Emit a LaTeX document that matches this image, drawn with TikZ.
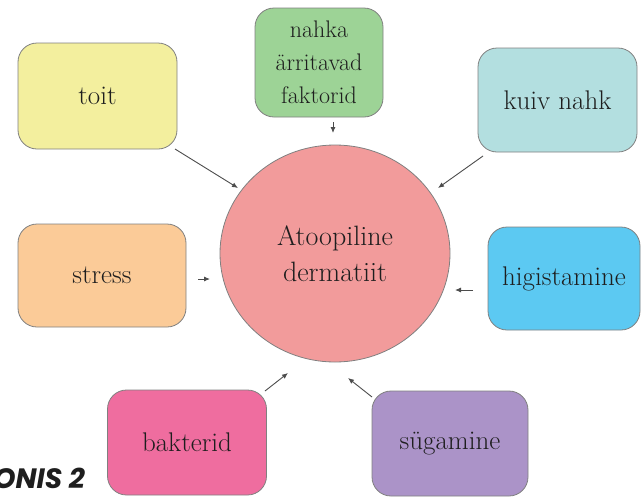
\documentclass[tikz,border=0pt]{standalone}
\usepackage{fontspec}
\newfontfamily\capfont{Poppins}
\usetikzlibrary{arrows.meta}
\definecolor{cyel}{HTML}{F3EF9E}
\definecolor{cgrn}{HTML}{9DD396}
\definecolor{ccya}{HTML}{B3DFE0}
\definecolor{corg}{HTML}{FBCB98}
\definecolor{cblu}{HTML}{5CC9F2}
\definecolor{cpnk}{HTML}{EF6D9F}
\definecolor{cpur}{HTML}{AB93C8}
\definecolor{ccir}{HTML}{F29B9B}
\definecolor{cbrd}{HTML}{808080}
\definecolor{ctxt}{HTML}{1E1E1E}
\tikzset{
  box/.style={draw=cbrd, line width=0.8pt, rounded corners=19pt, inner sep=0pt,
    text=ctxt, font=\fontsize{27}{33}\selectfont, align=center},
  hub/.style={draw=cbrd, line width=0.8pt, ellipse, fill=ccir, inner sep=0pt,
    text=ctxt, font=\fontsize{28}{36}\selectfont, align=center},
  arr/.style={draw=black!70, line width=0.9pt, -{Latex[length=6pt,width=5pt]}},
}
\usetikzlibrary{shapes.geometric}
\begin{document}
\begin{tikzpicture}[x=1pt,y=-1pt]
\useasboundingbox (0,0) rectangle (643,496);
\node[hub, minimum width=230pt, minimum height=217pt] (c) at (335,253.5) {Atoopiline\\dermatiit};
\node[box, fill=cyel, minimum width=159pt, minimum height=106pt] (toit) at (97.5,96) {toit};
\node[box, fill=cgrn, minimum width=128pt, minimum height=109pt, font=\fontsize{24}{33}\selectfont] (nahka) at (319,62.5) {nahka\\ärritavad\\faktorid};
\node[box, fill=ccya, minimum width=159pt, minimum height=104pt] (kuiv) at (557.5,100) {kuiv nahk};
\node[box, fill=corg, minimum width=168pt, minimum height=103pt] (stress) at (102,275.5) {stress};
\node[box, fill=cblu, minimum width=152pt, minimum height=103pt] (higi) at (564,278.5) {higistamine};
\node[box, fill=cpnk, minimum width=159pt, minimum height=105pt] (bakt) at (187,442.5) {bakterid};
\node[box, fill=cpur, minimum width=156pt, minimum height=105pt] (sug) at (450,443.5) {sügamine};
\node[anchor=base east, inner sep=0pt, text=ctxt, font=\capfont\bfseries\itshape\fontsize{28}{30}\selectfont] (cap) at (85,488) {JOONIS 2};
% arrow endpoints
\coordinate (t1) at (175,149); \coordinate (t2) at (238,188);
\coordinate (n1) at (333,122); \coordinate (n2) at (333,133);
\coordinate (k1) at (483,156); \coordinate (k2) at (438,188);
\coordinate (s1) at (198,279); \coordinate (s2) at (210,279);
\coordinate (h1) at (473,290); \coordinate (h2) at (455,290);
\coordinate (b1) at (265,391); \coordinate (b2) at (288,373);
\coordinate (g1) at (372,397); \coordinate (g2) at (348,378);
\draw[arr] (t1) -- (t2);
\draw[arr] (n1) -- (n2);
\draw[arr] (k1) -- (k2);
\draw[arr] (s1) -- (s2);
\draw[arr] (h1) -- (h2);
\draw[arr] (b1) -- (b2);
\draw[arr] (g1) -- (g2);
\end{tikzpicture}
\end{document}
